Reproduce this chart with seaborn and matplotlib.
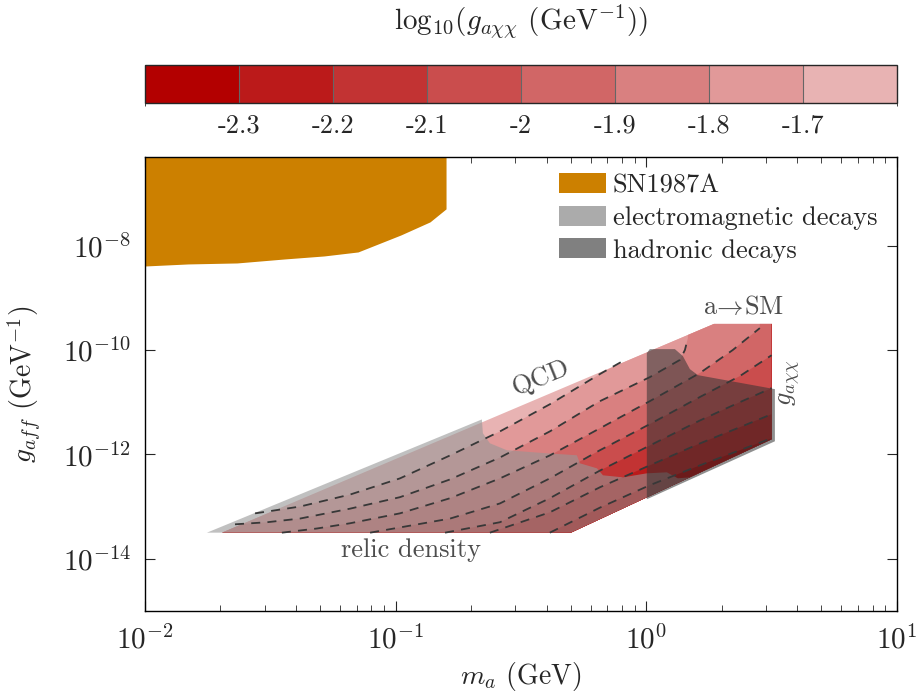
import numpy as np
import matplotlib
matplotlib.use("Agg")
import matplotlib.pyplot as plt
from matplotlib.colors import ListedColormap, BoundaryNorm
from matplotlib.cm import ScalarMappable
from matplotlib.patches import Patch, Polygon
from matplotlib.ticker import LogLocator, NullLocator, NullFormatter, FixedLocator
import seaborn as sns

# ── axis ranges ──
m_range = (1e-2, 1e1)
g_range = (1e-15, 5e-7)

# ── colour scale: log10(g_axx) ──
cbar_bounds = [-2.4, -2.3, -2.2, -2.1, -2.0, -1.9, -1.8, -1.7, -1.6]
cbar_ticks = [-2.3, -2.2, -2.1, -2.0, -1.9, -1.8, -1.7]
cbar_ticklabels = ["-2.3", "-2.2", "-2.1", "-2", "-1.9", "-1.8", "-1.7"]
cbar_colors = ["#b30000", "#bb1a1a", "#c23333", "#ca4d4d",
               "#d16666", "#d98080", "#e19999", "#e8b3b3"]

# ── region allowed by relic density / QCD / a->SM (log10 m_a, log10 g_aff) ──
region_logm = [-1.693, -0.301, 0.5, 0.5, 0.27]
region_logg = [-13.5, -13.5, -11.71, -9.5, -9.5]

# ── dashed contours of log10(g_axx) (log10 m_a, log10 g_aff) ──
c17_logm = [-1.561, -1.382, -1.182, -0.983, -0.783, -0.584, -0.385, -0.185, -0.093]
c17_logg = [-13.13, -13.00, -12.77, -12.46, -12.02, -11.56, -11.04, -10.46, -10.21]
c18_logm = [-1.641, -1.513, -1.382, -1.182, -0.983, -0.783, -0.584, -0.385, -0.185,
            0.014, 0.134, 0.154, 0.166]
c18_logg = [-13.34, -13.30, -13.23, -13.04, -12.82, -12.48, -12.06, -11.56, -10.98,
            -10.52, -10.19, -10.00, -9.77]
c19_logm = [-1.454, -1.314, -1.182, -0.983, -0.783, -0.584, -0.385, -0.185, 0.014,
            0.214, 0.345, 0.453]
c19_logg = [-13.5, -13.42, -13.32, -13.13, -12.84, -12.46, -12.02, -11.50, -10.98,
            -10.44, -10.00, -9.58]
c20_logm = [-1.102, -0.983, -0.783, -0.584, -0.385, -0.185, 0.014, 0.214, 0.373, 0.5]
c20_logg = [-13.5, -13.40, -13.23, -12.94, -12.46, -11.92, -11.42, -10.90, -10.50, -10.10]
c21_logm = [-0.803, -0.584, -0.385, -0.185, 0.014, 0.214, 0.373, 0.5]
c21_logg = [-13.5, -13.30, -12.84, -12.31, -11.83, -11.35, -11.00, -10.73]
c22_logm = [-0.624, -0.385, -0.185, 0.014, 0.214, 0.373, 0.5]
c22_logg = [-13.5, -13.11, -12.63, -12.21, -11.79, -11.48, -11.23]
c23_logm = [-0.385, -0.185, 0.014, 0.214, 0.373, 0.5]
c23_logg = [-13.5, -13.02, -12.59, -12.21, -11.92, -11.69]
contour_levels = [-1.7, -1.8, -1.9, -2.0, -2.1, -2.2, -2.3]

# ── excluded regions ──
em_logm = [-1.753, -0.656, -0.652, -0.624, -0.556, -0.397, -0.277, -0.265, -0.197,
           -0.173, -0.093, 0.002, 0.082, 0.126, 0.174, -0.301]
em_logg = [-13.5, -11.33, -11.595, -11.787, -11.921, -11.979, -12.017, -12.171, -12.267,
           -12.401, -12.44, -12.363, -12.344, -12.459, -12.44, -13.5]
had_logm = [0.002, 0.002, 0.014, 0.114, 0.146, 0.174, 0.206, 0.513, 0.513]
had_logg = [-12.86, -10.06, -9.983, -9.983, -10.117, -10.367, -10.482, -10.75, -11.749]
sn_logm = [-2.0, -1.828, -1.633, -1.442, -1.286, -1.150, -0.979, -0.863, -0.799]
sn_logg = [-8.39, -8.351, -8.332, -8.255, -8.198, -8.121, -7.795, -7.545, -7.296]

legend_names = ["SN1987A", "electromagnetic decays", "hadronic decays"]
legend_colors = ["#cc8000", "#ababab", "#808080"]


def pts(logm, logg):
    return 10 ** np.asarray(logm, float), 10 ** np.asarray(logg, float)


sns.set_style("ticks")
plt.rcParams.update({
    "font.family": ["cmr10", "DejaVu Serif"],
    "mathtext.fontset": "cm",
    "axes.formatter.use_mathtext": True,
    "font.size": 19,
    "axes.linewidth": 1.0,
})

fig = plt.figure(figsize=(9.19, 6.93), dpi=100)
ax = fig.add_axes([0.1578, 0.1184, 0.8182, 0.6551])
cax = fig.add_axes([0.1578, 0.8514, 0.8182, 0.0548])

ax.set_xscale("log")
ax.set_yscale("log")
ax.set_xlim(*m_range)
ax.set_ylim(*g_range)

cmap = ListedColormap(cbar_colors)
norm = BoundaryNorm(cbar_bounds, cmap.N)

# ── coloured relic region, painted band by band ──
rm, rg = pts(region_logm, region_logg)
region = Polygon(np.column_stack([rm, rg]), closed=True, transform=ax.transData,
                 facecolor=cmap(norm(contour_levels[0] + 0.05)), edgecolor="none",
                 zorder=1)
ax.add_patch(region)

contours = [(c17_logm, c17_logg), (c18_logm, c18_logg), (c19_logm, c19_logg),
            (c20_logm, c20_logg), (c21_logm, c21_logg), (c22_logm, c22_logg),
            (c23_logm, c23_logg)]

for level, (lm, lg) in zip(contour_levels, contours):
    m, g = pts(lm, lg)
    xs = np.concatenate([[m_range[0], m_range[0]], m, [m[-1], m_range[1], m_range[1]]])
    ys = np.concatenate([[g_range[0], g[0]], g, [g_range[1], g_range[1], g_range[0]]])
    band, = ax.fill(xs, ys, color=cmap(norm(level - 0.05)), lw=0, zorder=1)
    band.set_clip_path(region)

# ── excluded regions ──
em_m, em_g = pts(em_logm, em_logg)
ax.fill(em_m, em_g, color="#979797", alpha=0.6, lw=0, zorder=2)
had_m, had_g = pts(had_logm, had_logg)
ax.fill(had_m, had_g, color="#333333", alpha=0.55, lw=0, zorder=3)
sn_m, sn_g = pts(sn_logm, sn_logg)
ax.fill_between(sn_m, sn_g, g_range[1], color=legend_colors[0], lw=0, zorder=2)

# ── dashed contours ──
for lm, lg in contours:
    m, g = pts(lm, lg)
    sns.lineplot(x=m, y=g, sort=False, estimator=None, color="#383838",
                 linewidth=1.3, ax=ax, zorder=5)
    ax.lines[-1].set_dashes((5, 4))

# ── labels in the plot ──
txt = dict(color="#4d4d4d", fontsize=19, zorder=6)
ax.text(0.38, 3.0e-11, "QCD", rotation=22, ha="center", va="center",
        rotation_mode="anchor", **txt)
ax.text(0.115, 1.44e-14, "relic density", ha="center", va="center", **txt)
ax.text(2.45, 6.65e-10, r"a$\!\rightarrow\!$SM", ha="center", va="center", **txt)
ax.text(3.74, 2.42e-11, r"$g_{a\chi\chi}$", rotation=90, ha="center", va="center", **txt)

# ── axes styling ──
ax.xaxis.set_major_locator(LogLocator(base=10, numticks=10))
ax.xaxis.set_minor_locator(LogLocator(base=10, subs=np.arange(2, 10), numticks=20))
ax.xaxis.set_minor_formatter(NullFormatter())
ax.yaxis.set_major_locator(FixedLocator([1e-14, 1e-12, 1e-10, 1e-8]))
ax.yaxis.set_minor_locator(NullLocator())
ax.tick_params(which="both", direction="in", top=True, right=True, labelsize=21)
ax.tick_params(which="major", length=7, width=0.8, pad=10)
ax.tick_params(which="minor", length=4, width=0.6)
ax.set_xlabel(r"$m_a$ (GeV)", fontsize=20, labelpad=4)
ax.set_ylabel(r"$g_{aff}$ (GeV$^{-1}$)", fontsize=20, labelpad=14)
for sp in ax.spines.values():
    sp.set_visible(True)
    sp.set_color("black")

handles = [Patch(facecolor=c, edgecolor="none", label=n)
           for n, c in zip(legend_names, legend_colors)]
ax.legend(handles=handles, loc="upper left", bbox_to_anchor=(0.550, 0.965),
          frameon=False, fontsize=19, handlelength=1.8, handleheight=0.8,
          handletextpad=0.25, labelspacing=0.32, borderpad=0, borderaxespad=0)

# ── colour bar ──
cb = fig.colorbar(ScalarMappable(norm=norm, cmap=cmap), cax=cax,
                  orientation="horizontal", ticks=cbar_ticks, drawedges=True)
cb.ax.set_xticklabels(cbar_ticklabels)
cb.outline.set_linewidth(1.0)
cb.dividers.set_color("#666666")
cb.dividers.set_linewidth(0.8)
cax.tick_params(direction="in", top=True, bottom=True, length=4, labelsize=19, pad=8)
cax.set_title(r"log$_{10}$($g_{a\chi\chi}$ (GeV$^{-1}$))", fontsize=21, pad=26)

fig.savefig("out.png", dpi=100)
